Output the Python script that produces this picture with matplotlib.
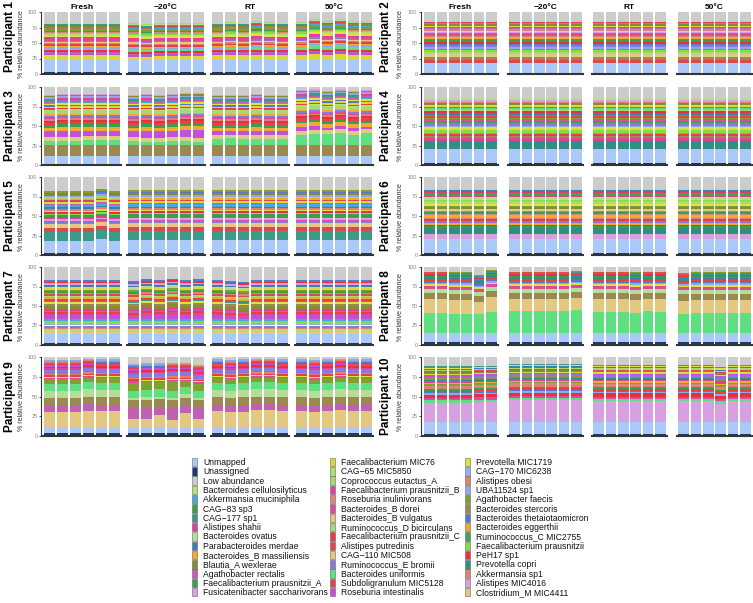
import matplotlib
matplotlib.use('Agg')
import matplotlib.pyplot as plt
from matplotlib.patches import Rectangle

plt.rcParams['font.family'] = ['Liberation Sans', 'DejaVu Sans']

conditions = ['Fresh', '−20°C', 'RT', '50°C']
n_reps = 6

legend_taxa = [
    'Unmapped', 'Unassigned', 'Low abundance', 'Bacteroides cellulosilyticus',
    'Akkermansia muciniphila', 'CAG−83 sp3', 'CAG−177 sp1', 'Alistipes shahii',
    'Bacteroides ovatus', 'Parabacteroides merdae', 'Bacteroides_B massiliensis',
    'Blautia_A wexlerae', 'Agathobacter rectalis', 'Faecalibacterium prausnitzii_A',
    'Fusicatenibacter saccharivorans',
    'Faecalibacterium MIC76', 'CAG−65 MIC5850', 'Coprococcus eutactus_A',
    'Faecalibacterium prausnitzii_B', 'Roseburia inulinivorans', 'Bacteroides_B dorei',
    'Bacteroides_B vulgatus', 'Ruminococcus_D bicirculans', 'Faecalibacterium prausnitzii_C',
    'Alistipes putredinis', 'CAG−110 MIC508', 'Ruminococcus_E bromii',
    'Bacteroides uniformis', 'Subdoligranulum MIC5128', 'Roseburia intestinalis',
    'Prevotella MIC1719', 'CAG−170 MIC6238', 'Alistipes obesi', 'UBA11524 sp1',
    'Agathobacter faecis', 'Bacteroides stercoris', 'Bacteroides thetaiotaomicron',
    'Bacteroides eggerthii', 'Ruminococcus_C MIC2755', 'Faecalibacterium prausnitzii',
    'PeH17 sp1', 'Prevotella copri', 'Akkermansia sp1', 'Alistipes MIC4016',
    'Clostridium_M MIC4411',
]
legend_colors = [
    '#aac8f8', '#1c3a6a', '#cccccc', '#b5e27a',
    '#4aa6e0', '#3a9e4a', '#3a9c88', '#e0409a',
    '#b6dc9a', '#3a80b0', '#f0aa30',
    '#8a8a30', '#c060b0', '#3aa050',
    '#d8a0e0',
    '#d8d838', '#b0e070', '#a8d870',
    '#e040a0', '#d88878', '#e04898',
    '#e2c880', '#a8d878', '#e84040',
    '#e04848', '#e2c880', '#8878e0',
    '#5ee080', '#e84050', '#c050e0',
    '#e0e040', '#90b0f0', '#e08070', '#90a8e8',
    '#80a030', '#9a8a50', '#5878d0',
    '#f0a830', '#40a060', '#80e040',
    '#e83040', '#309080', '#e08070', '#d8a0e0',
    '#e0c880',
]

# composition per participant, bottom to top ("Low abundance" fills the rest)
p1_taxa = ['Unassigned', 'Unmapped', 'Faecalibacterium MIC76', 'Roseburia intestinalis',
           'Agathobacter rectalis', 'PeH17 sp1', 'Bacteroides uniformis', 'UBA11524 sp1',
           'Bacteroides_B massiliensis', 'Faecalibacterium prausnitzii_C', 'Alistipes obesi',
           'Bacteroides_B vulgatus', 'Ruminococcus_E bromii', 'Bacteroides_B dorei',
           'Alistipes shahii', 'Prevotella MIC1719', 'CAG−65 MIC5850',
           'Faecalibacterium prausnitzii', 'Roseburia inulinivorans', 'CAG−83 sp3',
           'Agathobacter faecis', 'Bacteroides stercoris', 'Akkermansia muciniphila',
           'Blautia_A wexlerae', 'Alistipes putredinis', 'CAG−177 sp1', 'Bacteroides ovatus',
           'Coprococcus eutactus_A']
p1_vals = [3, 19, 8, 3, 2, 3, 3, 2, 2, 3, 2, 2, 2, 3, 2, 3, 2, 2, 2, 2, 2, 1.5, 1.5, 2,
           1.5, 1.5, 1.5, 1.5]
p1_var = {
    'Bacteroides uniformis': [3, 3, 3, 3, 3, 3, 4, 4, 3, 3, 3, 3,
                              3, 4, 3, 4, 4, 3, 4, 6, 5, 6, 5, 5],
    'Faecalibacterium MIC76': [8, 8, 8, 8, 8, 8, 6, 5, 7, 7, 7, 7,
                               8, 8, 8, 9, 8, 8, 8, 10, 9, 10, 9, 9],
}

p2_taxa = ['Unassigned', 'Unmapped', 'Alistipes putredinis', 'Bacteroides stercoris',
           'CAG−110 MIC508', 'Coprococcus eutactus_A', 'Faecalibacterium prausnitzii',
           'Agathobacter faecis', 'UBA11524 sp1', 'Ruminococcus_E bromii',
           'Bacteroides thetaiotaomicron', 'PeH17 sp1', 'CAG−83 sp3', 'Alistipes shahii',
           'Bacteroides_B massiliensis', 'Alistipes obesi', 'Bacteroides_B dorei',
           'Roseburia intestinalis', 'Fusicatenibacter saccharivorans', 'Prevotella MIC1719',
           'Roseburia inulinivorans', 'Agathobacter rectalis', 'CAG−177 sp1',
           'Faecalibacterium MIC76', 'Blautia_A wexlerae', 'Akkermansia muciniphila',
           'Subdoligranulum MIC5128', 'Bacteroides ovatus']
p2_vals = [2, 15, 5, 5, 5, 3, 4, 2, 3, 3, 2, 3, 3, 2, 2, 2, 3, 2, 2, 2, 2, 2, 2, 2, 2,
           2, 2, 2]

p3_taxa = ['Unassigned', 'Unmapped', 'Bacteroides stercoris', 'Bacteroides uniformis',
           'CAG−110 MIC508', 'Roseburia intestinalis', 'Bacteroides_B massiliensis',
           'CAG−83 sp3', 'Subdoligranulum MIC5128', 'PeH17 sp1', 'Alistipes obesi',
           'Bacteroides_B dorei', 'Ruminococcus_E bromii', 'Bacteroides eggerthii',
           'Coprococcus eutactus_A', 'CAG−65 MIC5850', 'Faecalibacterium prausnitzii_C',
           'Faecalibacterium MIC76', 'Bacteroides thetaiotaomicron', 'Prevotella MIC1719',
           'Akkermansia muciniphila', 'Agathobacter rectalis', 'CAG−177 sp1',
           'Alistipes shahii', 'UBA11524 sp1', 'Blautia_A wexlerae',
           'Fusicatenibacter saccharivorans']
p3_vals = [1, 10, 15, 5, 5, 7, 5, 3, 3, 3, 2, 2, 2, 2, 4, 2, 1.5, 2, 2, 2, 1.5, 2, 1.5,
           1.5, 2, 1.5, 1.5]
p3_var = {
    'Bacteroides uniformis': [5, 5, 5, 6, 6, 6, 5, 4, 4, 5, 5, 4,
                              7, 8, 7, 7, 7, 7, 13, 14, 14, 15, 12, 15],
    'Roseburia intestinalis': [7, 8, 8, 7, 7, 7, 7, 9, 8, 8, 9, 10,
                               5, 4, 5, 6, 5, 5, 5, 5, 3, 4, 5, 3],
}

p4_taxa = ['Unassigned', 'Unmapped', 'Prevotella copri', 'Alistipes shahii',
           'Bacteroides stercoris', 'Faecalibacterium prausnitzii_C', 'Roseburia inulinivorans',
           'Faecalibacterium prausnitzii', 'CAG−65 MIC5850', 'Prevotella MIC1719',
           'UBA11524 sp1', 'Ruminococcus_E bromii', 'CAG−83 sp3', 'Bacteroides_B dorei',
           'Agathobacter faecis', 'Alistipes putredinis', 'Roseburia intestinalis',
           'Parabacteroides merdae', 'PeH17 sp1', 'Coprococcus eutactus_A',
           'Bacteroides uniformis', 'Bacteroides thetaiotaomicron', 'Faecalibacterium MIC76',
           'Blautia_A wexlerae', 'Akkermansia sp1', 'Fusicatenibacter saccharivorans',
           'Bacteroides ovatus']
p4_vals = [3, 18, 10, 4, 2, 2.5, 2, 3, 2, 2, 2, 3, 2, 3, 2, 2, 2, 2, 2.5, 2, 2, 2, 2, 2,
           2, 2, 3]

p5_taxa = ['Unassigned', 'Unmapped', 'CAG−177 sp1', 'Alistipes putredinis',
           'Bacteroides_B vulgatus', 'Ruminococcus_E bromii', 'Bacteroides_B dorei',
           'Fusicatenibacter saccharivorans', 'Alistipes shahii', 'CAG−83 sp3',
           'Faecalibacterium prausnitzii', 'PeH17 sp1', 'Prevotella MIC1719', 'Alistipes obesi',
           'Parabacteroides merdae', 'Akkermansia muciniphila', 'Agathobacter rectalis',
           'Faecalibacterium MIC76', 'Subdoligranulum MIC5128', 'Bacteroides_B massiliensis',
           'Coprococcus eutactus_A', 'UBA11524 sp1', 'Blautia_A wexlerae',
           'Bacteroides thetaiotaomicron', 'Agathobacter faecis']
p5_vals = [2, 16, 12, 5, 5, 2, 2, 2, 2, 3, 2, 2, 2, 2, 2, 3, 2, 2, 2, 2, 2, 2, 2, 2, 2]
p5_var = {
    'Unmapped': [16, 16, 16, 16, 18, 16, 17, 17, 17, 17, 17, 17,
                 17, 17, 17, 17, 17, 17, 17, 17, 17, 17, 17, 17],
}

p6_taxa = ['Unassigned', 'Unmapped', 'Alistipes MIC4016', 'Prevotella copri', 'CAG−83 sp3',
           'PeH17 sp1', 'Bacteroides eggerthii', 'Ruminococcus_E bromii',
           'Faecalibacterium prausnitzii_C', 'Alistipes obesi', 'Bacteroides_B massiliensis',
           'Roseburia inulinivorans', 'Faecalibacterium prausnitzii_A',
           'Akkermansia muciniphila', 'Bacteroides_B vulgatus', 'Blautia_A wexlerae',
           'Agathobacter faecis', 'Prevotella MIC1719', 'CAG−65 MIC5850',
           'Coprococcus eutactus_A', 'Faecalibacterium prausnitzii',
           'Bacteroides cellulosilyticus', 'CAG−110 MIC508', 'Alistipes shahii',
           'Ruminococcus_C MIC2755', 'Subdoligranulum MIC5128', 'Parabacteroides merdae',
           'Bacteroides ovatus']
p6_vals = [2, 18, 7, 8, 2, 2, 2, 3, 2, 2, 3, 2, 2, 2, 2, 2, 2, 2, 2, 2, 2, 2, 2, 2, 2,
           2, 2, 2]

p7_taxa = ['Unassigned', 'Unmapped', 'Bacteroides_B vulgatus', 'CAG−65 MIC5850',
           'Alistipes obesi', 'Ruminococcus_E bromii', 'UBA11524 sp1',
           'Faecalibacterium prausnitzii', 'Bacteroides uniformis', 'Akkermansia muciniphila',
           'Roseburia intestinalis', 'Bacteroides_B dorei', 'Faecalibacterium prausnitzii_C',
           'Agathobacter rectalis', 'Alistipes shahii', 'Blautia_A wexlerae',
           'Bacteroides stercoris', 'Prevotella MIC1719', 'CAG−177 sp1',
           'Subdoligranulum MIC5128', 'Bacteroides_B massiliensis', 'Coprococcus eutactus_A',
           'Alistipes putredinis', 'Roseburia inulinivorans', 'CAG−83 sp3',
           'Agathobacter faecis', 'Faecalibacterium MIC76', 'Bacteroides ovatus',
           'Parabacteroides merdae', 'Fusicatenibacter saccharivorans', 'PeH17 sp1',
           'Bacteroides thetaiotaomicron']
p7_vals = [2, 12, 3, 3, 2, 3, 2, 2, 2, 2, 4, 3, 2, 2, 2, 4, 3, 2, 2, 2, 2, 2, 2, 2, 2, 2,
           2, 2, 2, 2, 2, 2]
p7_var = {
    'Roseburia intestinalis': [4, 4, 4, 4, 4, 4, 3, 5, 4, 6, 4, 5,
                               4, 3, 2, 4, 4, 4, 4, 4, 4, 4, 4, 4],
}

p8_taxa = ['Unassigned', 'Unmapped', 'Bacteroides uniformis', 'Bacteroides_B vulgatus',
           'Bacteroides stercoris', 'Bacteroides ovatus', 'Bacteroides_B dorei',
           'Prevotella MIC1719', 'UBA11524 sp1', 'Bacteroides thetaiotaomicron',
           'Faecalibacterium prausnitzii_C', 'Prevotella copri', 'Parabacteroides merdae',
           'Faecalibacterium prausnitzii_A', 'PeH17 sp1', 'CAG−177 sp1',
           'Alistipes putredinis', 'Agathobacter faecis']
p8_vals = [4, 11, 26, 18, 8, 5, 4, 2, 2, 2, 2, 2, 1.5, 1.5, 1.5, 1.5, 1, 1]
p8_var = {
    'Bacteroides uniformis': [26, 26, 25, 25, 25, 27, 29, 29, 29, 29, 29, 30,
                              27, 27, 27, 26, 28, 27, 25, 26, 26, 26, 26, 26],
    'Bacteroides_B vulgatus': [18, 18, 18, 18, 15, 19, 15, 15, 15, 15, 15, 15,
                               17, 17, 17, 17, 16, 17, 17, 17, 17, 17, 17, 17],
}

p9_taxa = ['Unassigned', 'Unmapped', 'CAG−110 MIC508', 'Agathobacter rectalis',
           'Bacteroides stercoris', 'Bacteroides ovatus', 'Bacteroides uniformis',
           'Agathobacter faecis', 'Bacteroides_B dorei', 'Prevotella MIC1719',
           'Faecalibacterium prausnitzii_C', 'Alistipes obesi', 'Ruminococcus_E bromii',
           'Alistipes shahii', 'PeH17 sp1', 'Roseburia intestinalis',
           'Subdoligranulum MIC5128', 'Bacteroides thetaiotaomicron', 'Akkermansia sp1',
           'UBA11524 sp1']
p9_vals = [4, 7, 20, 7, 10, 9, 9, 6, 2, 1, 2, 1.5, 5, 2, 2, 2, 2, 1.5, 1.5, 1.5]
p9_var = {
    'CAG−110 MIC508': [20, 19, 19, 21, 21, 21, 10, 11, 15, 9, 18, 11,
                       21, 20, 20, 22, 22, 21, 21, 20, 21, 22, 21, 21],
    'Agathobacter rectalis': [7, 8, 8, 8, 7, 7, 14, 14, 11, 15, 9, 13,
                              7, 7, 8, 7, 7, 7, 7, 7, 7, 7, 7, 8],
    'Bacteroides ovatus': [9, 9, 9, 9, 9, 9, 3, 3, 3, 3, 5, 3,
                           9, 9, 9, 9, 9, 9, 9, 9, 9, 9, 9, 8],
    'Agathobacter faecis': [6, 6, 6, 6, 6, 6, 10, 10, 9, 12, 7, 9,
                            6, 6, 6, 6, 6, 6, 6, 6, 6, 6, 6, 6],
}

p10_taxa = ['Unassigned', 'Unmapped', 'Alistipes MIC4016', 'Bacteroides uniformis',
            'Bacteroides_B dorei', 'PeH17 sp1', 'UBA11524 sp1', 'Bacteroides thetaiotaomicron',
            'Faecalibacterium prausnitzii_C', 'CAG−83 sp3', 'Alistipes obesi',
            'Roseburia inulinivorans', 'Agathobacter faecis', 'Bacteroides_B massiliensis',
            'Alistipes shahii', 'Prevotella copri', 'Bacteroides stercoris',
            'Ruminococcus_E bromii', 'Roseburia intestinalis', 'Faecalibacterium MIC76',
            'Blautia_A wexlerae', 'Alistipes putredinis', 'Coprococcus eutactus_A',
            'Parabacteroides merdae', 'Prevotella MIC1719', 'CAG−177 sp1']
p10_vals = [3, 15, 25, 3, 3, 4, 2, 1.5, 2, 2, 2, 2, 2, 1.5, 2, 2, 2, 2, 2, 1.5, 2, 1.5,
            1.5, 1.5, 1.5, 1.5]
p10_var = {
    'Alistipes MIC4016': [24, 24, 24, 24, 25, 25, 27, 27, 27, 27, 27, 27,
                          26, 26, 26, 26, 26, 26, 26, 26, 26, 23, 26, 26],
}

participants = [
    ('Participant 1', p1_taxa, p1_vals, p1_var),
    ('Participant 2', p2_taxa, p2_vals, None),
    ('Participant 3', p3_taxa, p3_vals, p3_var),
    ('Participant 4', p4_taxa, p4_vals, None),
    ('Participant 5', p5_taxa, p5_vals, p5_var),
    ('Participant 6', p6_taxa, p6_vals, None),
    ('Participant 7', p7_taxa, p7_vals, p7_var),
    ('Participant 8', p8_taxa, p8_vals, p8_var),
    ('Participant 9', p9_taxa, p9_vals, p9_var),
    ('Participant 10', p10_taxa, p10_vals, p10_var),
]

color_of = dict(zip(legend_taxa, legend_colors))

W, H = 753, 603
fig = plt.figure(figsize=(W / 100, H / 100), dpi=100)


def px_axes(x, y, w, h):
    return fig.add_axes([x / W, 1 - (y + h) / H, w / W, h / H])


col_x = [[43, 127, 211, 295], [423, 508, 592, 677]]
col_w = [78, 75]
row_top = [12, 87, 177, 267, 357]
row_bot = [74, 165, 255, 345, 436]
label_x = [10, 386]
ylab_x = [22, 400]

for i, (name, taxa, vals, var) in enumerate(participants):
    col, row = i % 2, i // 2
    top, bot = row_top[row], row_bot[row]
    for c, cond in enumerate(conditions):
        ax = px_axes(col_x[col][c], top, col_w[col], bot - top)
        for r in range(n_reps):
            bottom = 0
            for t, v in zip(taxa, vals):
                if var and t in var:
                    v = var[t][c * n_reps + r]
                ax.bar(r, v, bottom=bottom, width=0.87, color=color_of[t], linewidth=0)
                bottom += v
            ax.bar(r, 100 - bottom, bottom=bottom, width=0.87,
                   color=color_of['Low abundance'], linewidth=0)
        ax.set_xlim(-0.53, 5.53)
        ax.set_ylim(0, 100)
        ax.set_xticks([])
        for s in ['top', 'right']:
            ax.spines[s].set_visible(False)
        ax.spines['bottom'].set_color('#333333')
        ax.spines['bottom'].set_linewidth(1.5)
        if c == 0:
            ax.spines['left'].set_position(('outward', 1.5))
            ax.spines['left'].set_color('#333333')
            ax.spines['left'].set_linewidth(0.8)
            ax.set_yticks([0, 25, 50, 75, 100])
            ax.tick_params(axis='y', labelsize=4, colors='#333333', labelcolor='#888888',
                           length=1.5, width=0.6, pad=1)
        else:
            ax.spines['left'].set_visible(False)
            ax.set_yticks([])
        if row == 0:
            ax.set_title(cond, fontsize=6, fontweight='bold', pad=2)
    mid = (top + bot) / 2 if row > 0 else 37
    fig.text(label_x[col] / W, 1 - mid / H, name, rotation=90, ha='center', va='center',
             fontsize=8.5, fontweight='bold')
    fig.text(ylab_x[col] / W, 1 - ((top + bot) / 2 + 1) / H, '% relative abundance',
             rotation=90, ha='center', va='center', fontsize=5, color='#333333')

# legend: three columns of 15 entries
leg_x = [192, 330, 465]
leg_y0, leg_dy = 462, 9.3
for k, t in enumerate(legend_taxa):
    lx = leg_x[k // 15]
    ly = leg_y0 + (k % 15) * leg_dy
    fig.patches.append(Rectangle((lx / W, 1 - (ly + 4.2) / H), 4.5 / W, 8.4 / H,
                                 transform=fig.transFigure, facecolor=color_of[t],
                                 edgecolor='#666666', linewidth=0.4))
    fig.text((lx + 11) / W, 1 - (ly + 3) / H, t, ha='left', va='baseline',
             fontsize=6.2, color='#111111')

fig.savefig('out.png', dpi=100)
